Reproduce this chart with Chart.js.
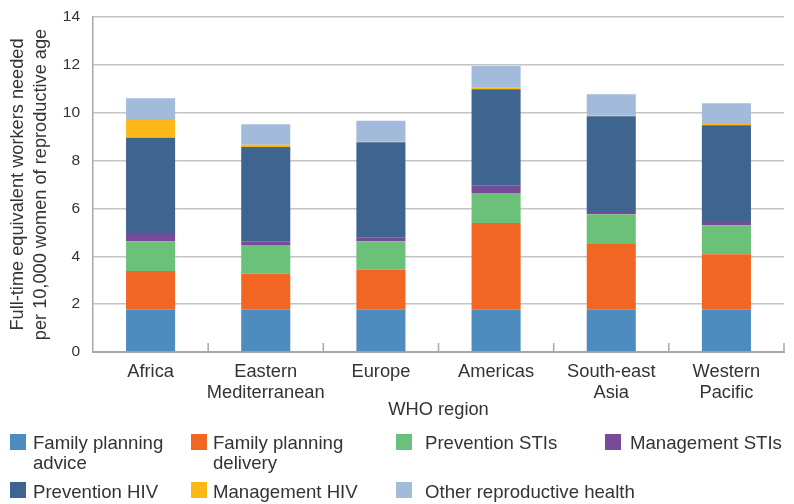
<!DOCTYPE html>
<html>
<head>
<meta charset="utf-8">
<script src="https://cdn.jsdelivr.net/npm/chart.js@4"></script>
<style>
  body { margin: 0; background: #fff; }
  #wrap { position: relative; width: 794px; height: 504px; }
  #chartBox { position: absolute; left: 0; top: 0; width: 794px; height: 420px; }
  #legend { position: absolute; left: 0; top: 0; width: 794px; height: 504px; pointer-events: none;
    font-family: 'Liberation Sans', Arial, sans-serif; font-size: 18.6px; color: #333; }
  .sw { position: absolute; width: 16px; height: 16px; }
  .txt { position: absolute; line-height: 20px; white-space: nowrap; }
</style>
</head>
<body>
<div id="wrap">
  <div id="chartBox"><canvas id="chart"></canvas></div>
  <div id="legend"></div>
</div>
<script>
// categories (WHO regions)
const regions = [['Africa'], ['Eastern', 'Mediterranean'], ['Europe'], ['Americas'], ['South-east', 'Asia'], ['Western', 'Pacific']];

// series values
const fpAdvice = [1.77, 1.77, 1.77, 1.77, 1.77, 1.77];
const fpDelivery = [1.61, 1.50, 1.67, 3.62, 2.78, 2.32];
const preventionSTIs = [1.25, 1.20, 1.19, 1.25, 1.21, 1.21];
const managementSTIs = [0.30, 0.14, 0.17, 0.33, 0.13, 0.17];
const preventionHIV = [4.02, 3.96, 3.97, 4.01, 3.96, 4.01];
const managementHIV = [0.75, 0.09, 0.02, 0.08, 0.04, 0.05];
const otherRH = [0.90, 0.86, 0.87, 0.89, 0.88, 0.87];

const yTicks = [0, 2, 4, 6, 8, 10, 12, 14];

const series = [
  { label: 'Family planning advice', lines: ['Family planning', 'advice'], data: fpAdvice, color: '#4e8bbf' },
  { label: 'Family planning delivery', lines: ['Family planning', 'delivery'], data: fpDelivery, color: '#f26623' },
  { label: 'Prevention STIs', lines: ['Prevention STIs'], data: preventionSTIs, color: '#6bc17a' },
  { label: 'Management STIs', lines: ['Management STIs'], data: managementSTIs, color: '#774a9a' },
  { label: 'Prevention HIV', lines: ['Prevention HIV'], data: preventionHIV, color: '#3e658f' },
  { label: 'Management HIV', lines: ['Management HIV'], data: managementHIV, color: '#fbb817' },
  { label: 'Other reproductive health', lines: ['Other reproductive health'], data: otherRH, color: '#a2bbdb' }
];

const regular = "'Liberation Sans', Arial, sans-serif";

// small tick marks between categories, pointing up into the plot
const innerTicks = {
  id: 'innerTicks',
  afterDraw(chart) {
    const x = chart.scales.x;
    const ctx = chart.ctx;
    const bottom = chart.chartArea.bottom;
    ctx.save();
    ctx.strokeStyle = '#a8a8a8';
    ctx.lineWidth = 1.5;
    for (let i = 1; i <= regions.length; i++) {
      const pos = i === regions.length ? chart.chartArea.right
        : (x.getPixelForValue(i - 1) + x.getPixelForValue(i)) / 2;
      ctx.beginPath();
      ctx.moveTo(pos, bottom);
      ctx.lineTo(pos, bottom - 9);
      ctx.stroke();
    }
    ctx.restore();
  }
};

new Chart(document.getElementById('chart'), {
  type: 'bar',
  data: {
    labels: regions,
    datasets: series.map(s => ({
      label: s.label,
      data: s.data,
      backgroundColor: s.color,
      borderWidth: 0,
      barPercentage: 0.426,
      categoryPercentage: 1
    }))
  },
  options: {
    responsive: true,
    maintainAspectRatio: false,
    animation: false,
    layout: { padding: { left: 0, right: 10, top: 17, bottom: 0 } },
    plugins: { legend: { display: false }, tooltip: { enabled: false } },
    scales: {
      x: {
        stacked: true,
        grid: { display: false },
        border: { display: true, color: '#a8a8a8', width: 2 },
        ticks: {
          color: '#333',
          font: { family: regular, size: 18.3, lineHeight: 1.15 },
          padding: 1,
          autoSkip: false,
          minRotation: 0,
          maxRotation: 0
        },
        title: { display: true, text: 'WHO region', color: '#333', font: { family: regular, size: 18.3, lineHeight: 1.1 }, padding: { top: 0, bottom: 0 } },
        afterFit(scale) { scale.height = 68; scale.paddingLeft = 0; scale.paddingRight = 0; }
      },
      y: {
        stacked: true,
        min: 0,
        max: 14,
        afterBuildTicks(scale) { scale.ticks = yTicks.map(v => ({ value: v })); },
        grid: { color: '#c4c4c4', lineWidth: 1.5, drawTicks: false },
        border: { display: true, color: '#a8a8a8', width: 1.5 },
        ticks: { color: '#333', font: { family: regular, size: 15.5 }, padding: 13 },
        title: {
          display: true,
          text: ['Full-time equivalent workers needed', 'per 10,000 women of reproductive age'],
          color: '#333',
          font: { family: regular, size: 18.2, lineHeight: 1.26 },
          padding: { top: 7, bottom: 0 }
        },
        afterFit(scale) { scale.width = 93; scale.paddingTop = 0; scale.paddingBottom = 0; }
      }
    }
  },
  plugins: [innerTicks]
});

// HTML legend: four columns, two rows
const legend = document.getElementById('legend');
const swatchX = [10, 191, 396, 605];
const textX = [33, 213, 425, 630];
const swatchY = [434, 482];
const textY = [433, 482];
series.forEach((s, i) => {
  const col = i % 4, row = Math.floor(i / 4);
  const sw = document.createElement('div');
  sw.className = 'sw';
  sw.style.left = swatchX[col] + 'px';
  sw.style.top = swatchY[row] + 'px';
  sw.style.background = s.color;
  const txt = document.createElement('div');
  txt.className = 'txt';
  txt.style.left = textX[col] + 'px';
  txt.style.top = textY[row] + 'px';
  txt.innerHTML = s.lines.join('<br>');
  legend.appendChild(sw);
  legend.appendChild(txt);
});
</script>
</body>
</html>
